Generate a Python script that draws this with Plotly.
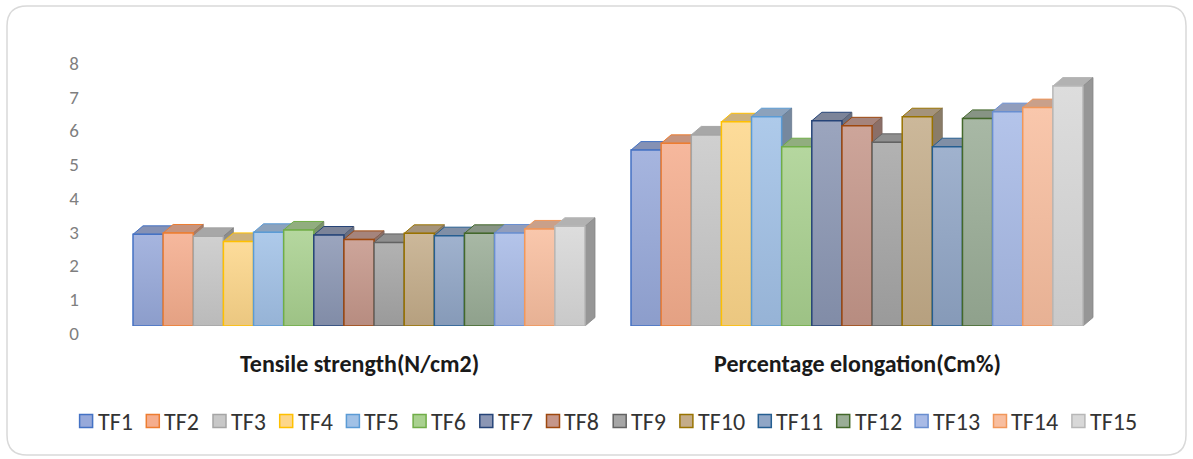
import plotly.graph_objects as go

# ---- data -------------------------------------------------------------
categories = ["Tensile strength(N/cm2)", "Percentage elongation(Cm%)"]
formulations = ["TF1", "TF2", "TF3", "TF4", "TF5", "TF6", "TF7", "TF8",
                "TF9", "TF10", "TF11", "TF12", "TF13", "TF14", "TF15"]
tensile_strength = [2.72, 2.76, 2.66, 2.51, 2.78, 2.85, 2.70, 2.57,
                    2.48, 2.75, 2.68, 2.75, 2.76, 2.88, 2.96]
elongation = [5.22, 5.42, 5.67, 6.06, 6.21, 5.32, 6.09, 5.94,
              5.45, 6.21, 5.32, 6.16, 6.36, 6.48, 7.12]
y_ticks = [0, 1, 2, 3, 4, 5, 6, 7, 8]

# ---- styling ----------------------------------------------------------
edge_colors = ["#4472C4", "#ED7D31", "#A5A5A5", "#FFC000", "#5B9BD5",
               "#70AD47", "#264478", "#9E480E", "#636363", "#997300",
               "#255E91", "#43682B", "#698ED0", "#F1975A", "#B7B7B7"]
fill_colors = ["#97A9DA", "#F5AD8D", "#C8C8C8", "#FDD68A", "#A1C1E6",
               "#A9D18F", "#8B96B4", "#C5968A", "#A6A6A6", "#C4AC89",
               "#90A6C6", "#9AAD96", "#A8BAE6", "#F8BE9F", "#D8D8D8"]
FONT = "Carlito, Lato, sans-serif"


def mix(c1, c2, t):
    a = [int(c1[i:i + 2], 16) for i in (1, 3, 5)]
    b = [int(c2[i:i + 2], 16) for i in (1, 3, 5)]
    return "#" + "".join(f"{round(x * (1 - t) + y * t):02X}" for x, y in zip(a, b))


W, H = 1193, 459
ML, MR, MT, MB = 110, 87, 50, 133
plot_w, plot_h = W - ML - MR, H - MT - MB
px_per_cat = plot_w / 2.0          # x range spans two category slots
px_per_unit = 33.7                 # vertical pixels per value unit
y_max = plot_h / px_per_unit

group_w = 452 / px_per_cat
bar_w = group_w / len(formulations)
depth_x = 10 / px_per_cat          # oblique depth of the 3-D boxes
depth_y = 8.5 / px_per_unit

series = [tensile_strength, elongation]

fig = go.Figure()
faces = {}

for i, name in enumerate(formulations):
    edge, fill = edge_colors[i], fill_colors[i]
    light = mix(fill, "#FFFFFF", 0.14)
    dark = mix(fill, "#000000", 0.07)
    top_c = mix(fill, "#5A5A5A", 0.30)
    side_c = mix(fill, "#3A3A3A", 0.42)
    offset = -group_w / 2 + i * bar_w

    for c, vals in enumerate(series):
        v = vals[i]
        x0 = c + offset
        x1 = x0 + bar_w
        # front face of the box, shaded from dark (base) to light (top)
        fig.add_trace(go.Scatter(
            x=[x0, x1, x1, x0, x0], y=[0, 0, v, v, 0],
            mode="lines", fill="toself",
            fillgradient=dict(type="vertical", start=0, stop=v,
                              colorscale=[[0, dark], [1, light]]),
            line=dict(color=edge, width=1.5),
            name=name, legendgroup=name, showlegend=False,
            hoveron="fills", text=f"{name}: {v}", hoverinfo="text",
        ))
        faces[(c, i)] = [
            dict(type="path", xref="x", yref="y", layer="below",
                 path=(f"M{x0},{v} L{x1},{v} L{x1 + depth_x},{v + depth_y} "
                       f"L{x0 + depth_x},{v + depth_y} Z"),
                 fillcolor=top_c, line=dict(color=edge, width=1)),
            dict(type="path", xref="x", yref="y", layer="below",
                 path=(f"M{x1},0 L{x1 + depth_x},{depth_y} "
                       f"L{x1 + depth_x},{v + depth_y} L{x1},{v} Z"),
                 fillcolor=side_c,
                 line=dict(color=mix(side_c, "#000000", 0.1), width=0.8)),
        ]

# paint each box's top/side after its left neighbour's
shapes = []
for c in range(len(categories)):
    for i in range(len(formulations)):
        shapes += faces[(c, i)]


def px_x(px):
    return (px - ML) / plot_w


def px_y(py):
    return (H - MB - py) / plot_h


# rounded chart border
bx0, by0, bx1, by1, r = 7, 6, 1186, 455, 20
path = (f"M{px_x(bx0 + r)},{px_y(by0)} L{px_x(bx1 - r)},{px_y(by0)} "
        f"Q{px_x(bx1)},{px_y(by0)} {px_x(bx1)},{px_y(by0 + r)} "
        f"L{px_x(bx1)},{px_y(by1 - r)} "
        f"Q{px_x(bx1)},{px_y(by1)} {px_x(bx1 - r)},{px_y(by1)} "
        f"L{px_x(bx0 + r)},{px_y(by1)} "
        f"Q{px_x(bx0)},{px_y(by1)} {px_x(bx0)},{px_y(by1 - r)} "
        f"L{px_x(bx0)},{px_y(by0 + r)} "
        f"Q{px_x(bx0)},{px_y(by0)} {px_x(bx0 + r)},{px_y(by0)} Z")
shapes.append(dict(type="path", xref="paper", yref="paper", path=path,
                   line=dict(color="#D9D9D9", width=1.5), layer="below"))

annotations = []
# category labels under each group
for c, label in enumerate(categories):
    annotations.append(dict(
        x=c, xref="x", y=px_y(363), yref="paper", text=label,
        showarrow=False, xanchor="center", yanchor="middle",
        font=dict(family=FONT, size=24, color="#1A1A1A", weight=700)))

# legend row
sx = 79.6
ly = 421
for i, name in enumerate(formulations):
    shapes.append(dict(
        type="rect", xref="paper", yref="paper",
        x0=px_x(sx), x1=px_x(sx + 13), y0=px_y(ly - 6.5), y1=px_y(ly + 6.5),
        fillcolor=fill_colors[i], line=dict(color=edge_colors[i], width=1.5)))
    annotations.append(dict(
        x=px_x(sx + 16), y=px_y(ly), xref="paper", yref="paper", text=name,
        showarrow=False, xanchor="left", yanchor="middle",
        font=dict(family=FONT, size=24, color="#333333")))
    sx += 31.6 + 11.7 * len(name)

fig.update_layout(
    width=W, height=H,
    margin=dict(l=ML, r=MR, t=MT, b=MB),
    paper_bgcolor="white", plot_bgcolor="white",
    shapes=shapes, annotations=annotations,
    showlegend=False,
    xaxis=dict(range=[-0.5, 1.5], showgrid=False, zeroline=False,
               showticklabels=False, showline=False, fixedrange=True),
    yaxis=dict(range=[0, y_max], tickvals=y_ticks, showgrid=False,
               zeroline=False, showline=False, ticks="",
               ticklabelshift=7, ticklabelstandoff=30,
               tickfont=dict(family=FONT, size=19, color="#7F7F7F")),
    hovermode="closest",
)

fig.write_html("out.html")
